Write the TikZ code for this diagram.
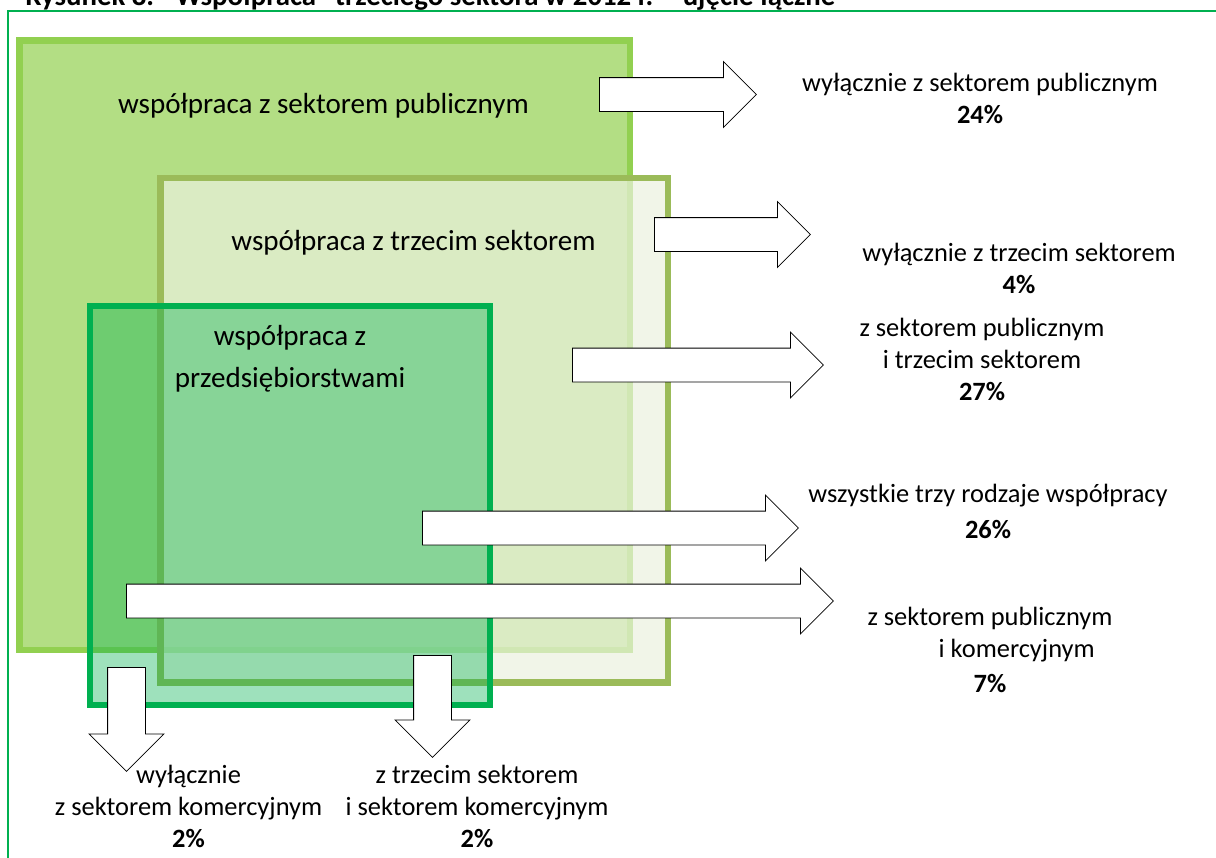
\documentclass[tikz,border=0pt]{standalone}
\usepackage{fontspec}
\setmainfont{Carlito}
\usetikzlibrary{positioning,shapes.arrows}
\definecolor{pubgreen}{HTML}{92D050}
\definecolor{olivegreen}{HTML}{9BBB59}
\definecolor{olivelight}{HTML}{EBF1DE}
\definecolor{firmgreen}{HTML}{00B050}
\tikzset{
  pubbox/.style={draw=pubgreen, line width=4.9pt, fill=pubgreen!70!white},
  thirdbox/.style={draw=olivegreen, line width=5.2pt, fill=olivelight, fill opacity=0.7},
  firmbox/.style={draw=firmgreen, line width=4.5pt, fill=firmgreen, fill opacity=0.38},
  rightarrow/.style={single arrow, draw=black, line width=0.6pt, fill=white, inner xsep=0pt,
    inner ysep=12.375pt, minimum width=48.75pt, single arrow head extend=12pt, anchor=tail},
  downarrow/.style={rightarrow, rotate=-90, inner ysep=13.875pt, minimum width=55.5pt,
    single arrow head extend=13.875pt},
  boxlabel/.style={font=\fontsize{21.8}{31.5}\selectfont, align=center, anchor=base, inner sep=0pt},
  outlabel/.style={font=\fontsize{19.8}{24}\selectfont, align=center, anchor=base, inner sep=0pt}
}
\begin{document}
\begin{tikzpicture}[x=0.75pt, y=-0.75pt]
  \useasboundingbox (0,0) rectangle (1216,857);
  \clip (0,0) rectangle (1216,857);
  % title and frame
  \node[font=\fontsize{21.6}{26}\selectfont\bfseries, anchor=base west, inner sep=0pt] (title) at (25,5)
    {Rysunek 8. “Współpraca” trzeciego sektora w 2012 r. – ujęcie łączne};
  \draw[firmgreen, line width=1.5pt] (8,11) rectangle (1230,870);
  % the three kinds of cooperation
  \draw[pubbox] (19.5,40.5) rectangle (630,650);
  \draw[thirdbox] (160.5,178) rectangle (668,682.5);
  \draw[firmbox] (90,306) rectangle (490,705);
  \node[boxlabel] (pubName) at (323.5,113) {współpraca z sektorem publicznym};
  \node[boxlabel] (thirdName) at (413.5,250) {współpraca z trzecim sektorem};
  \node[boxlabel] (firmName) at (290,387) {współpraca z\\przedsiębiorstwami};
  % arrows
  \node[rightarrow, minimum height=117.75pt] (arPub) at (599,94.5) {};
  \node[rightarrow, minimum height=117pt] (arThird) at (654,234.5) {};
  \node[rightarrow, minimum height=188.25pt] (arPubThird) at (572,365) {};
  \node[rightarrow, minimum height=282pt] (arAll) at (422,528) {};
  \node[rightarrow, minimum height=530.25pt] (arPubCom) at (126,601) {};
  \node[downarrow, minimum height=78pt] (arCom) at (126.5,667) {};
  \node[downarrow, minimum height=76.5pt] (arThirdCom) at (432.5,655) {};
  % shares
  \node[outlabel] (pubOnly) at (980,123) {wyłącznie z sektorem publicznym\\\textbf{24\%}};
  \node[outlabel] (thirdOnly) at (1019,293) {wyłącznie z trzecim sektorem\\\textbf{4\%}};
  \node[outlabel] (pubThird) at (982,400) {z sektorem publicznym\\i trzecim sektorem\\\textbf{27\%}};
  \node[outlabel] (allThree) at (988,538) {wszystkie trzy rodzaje współpracy\\[3pt]\textbf{26\%}};
  \node[outlabel] (pubCom) at (990,692) {z sektorem publicznym\\\hspace*{40pt}i komercyjnym\\[2pt]\textbf{7\%}};
  \node[outlabel] (comOnly) at (188.5,847) {wyłącznie\\z sektorem komercyjnym\\\textbf{2\%}};
  \node[outlabel] (thirdCom) at (477,847) {z trzecim sektorem\\i sektorem komercyjnym\\\textbf{2\%}};
\end{tikzpicture}
\end{document}
